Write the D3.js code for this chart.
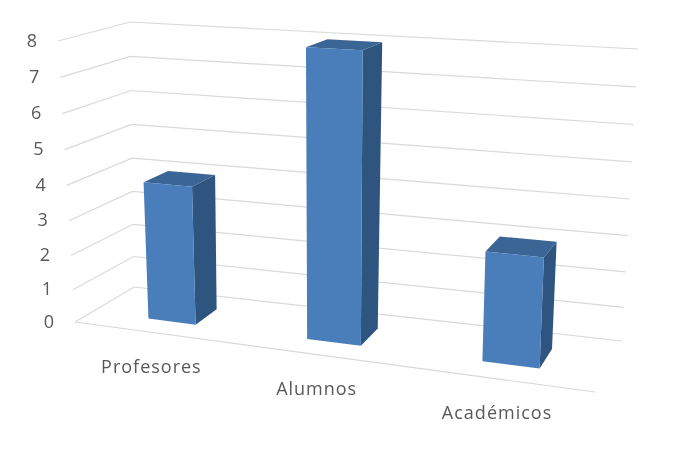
<!DOCTYPE html>
<html>
<head>
<meta charset="utf-8">
<script src="https://cdn.jsdelivr.net/npm/d3@7"></script>
<style>
    html, body { margin: 0; padding: 0; background: #fff; }
    text { font-family: "Open Sans", sans-serif; fill: #595959; }
</style>
</head>
<body>
<div id="chart"></div>
<script>
// Chart data
var categories = ["Profesores", "Alumnos", "Académicos"];
var values = [4, 8, 3];
var yTicks = [0, 1, 2, 3, 4, 5, 6, 7, 8];

var svgWidth = 675;
var svgHeight = 460;

// Pixel corners of the 3D box: front-left, front-right, back-right, back-left
var floorQuad = [[75, 322], [595, 392], [622, 341], [134, 287]];
var topQuad = [[58, 41], [610, 70], [638, 49], [130, 22]];

function lerp(a, b, t) {
    return [a[0] + (b[0] - a[0]) * t, a[1] + (b[1] - a[1]) * t];
}

// Maps the unit square on to a quad
function quadAt(q, u, w) {
    return lerp(lerp(q[0], q[1], u), lerp(q[3], q[2], u), w);
}

// Slight powers because of the perspective: things nearer the viewer come out bigger
var yScale = d3.scalePow().exponent(1.04).domain([0, 8]).range([0, 1]);
var uScale = d3.scalePow().exponent(1.13).domain([0, 1]).range([0, 1]);
var xScale = d3.scaleBand().domain(categories).range([0.03, 1])
    .paddingInner(0.686).paddingOuter(0.343);
var depth = { front: 0.3, back: 0.7 };

// u = along categories, w = into the chart, v = value
function project(u, w, v) {
    var p = uScale(u);
    return lerp(quadAt(floorQuad, p, w), quadAt(topQuad, p, w), yScale(v));
}

var svg = d3.select("#chart").append("svg")
    .attr("width", svgWidth)
    .attr("height", svgHeight);

var defs = svg.append("defs");
defs.append("filter").attr("id", "soft")
    .append("feGaussianBlur").attr("stdDeviation", 0.45);

var chartGroup = svg.append("g").attr("filter", "url(#soft)");
var line = d3.line();

// Gridlines on the side and back walls
chartGroup.selectAll(".grid")
    .data(yTicks)
    .enter()
    .append("path")
    .attr("class", "grid")
    .attr("fill", "none")
    .attr("stroke", "#d9d9d9")
    .attr("stroke-width", 1.2)
    .attr("d", d => line([project(0, 0, d), project(0, 1, d), project(1, 1, d)]));

// Front edge of the floor
chartGroup.append("path")
    .attr("fill", "none")
    .attr("stroke", "#d9d9d9")
    .attr("stroke-width", 1.2)
    .attr("d", line([project(0, 0, 0), project(1, 0, 0)]));

// Bars
var bars = chartGroup.selectAll(".bar")
    .data(categories)
    .enter()
    .append("g")
    .attr("class", "bar");

function face(cat, value, side) {
    var x0 = xScale(cat), x1 = x0 + xScale.bandwidth();
    var f = depth.front, b = depth.back;
    if (side == "front") return line([project(x0, f, 0), project(x1, f, 0), project(x1, f, value), project(x0, f, value)]) + "Z";
    if (side == "top") return line([project(x0, f, value), project(x1, f, value), project(x1, b, value), project(x0, b, value)]) + "Z";
    return line([project(x1, f, 0), project(x1, b, 0), project(x1, b, value), project(x1, f, value)]) + "Z";
}

bars.append("path")
    .attr("fill", "#2f5480")
    .attr("d", (d, i) => face(d, values[i], "side"));
bars.append("path")
    .attr("fill", "#3a6595")
    .attr("d", (d, i) => face(d, values[i], "top"));
bars.append("path")
    .attr("fill", "#4a7ebb")
    .attr("d", (d, i) => face(d, values[i], "front"));

var labelGroup = svg.append("g").attr("filter", "url(#soft)");

// Value labels
labelGroup.selectAll(".tick-label")
    .data(yTicks)
    .enter()
    .append("text")
    .attr("class", "tick-label")
    .attr("text-anchor", "end")
    .attr("dominant-baseline", "middle")
    .attr("font-size", 18)
    .attr("x", d => project(0, 0, d)[0] - 21)
    .attr("y", d => project(0, 0, d)[1] + 1)
    .text(d => d);

// Category labels
labelGroup.selectAll(".cat-label")
    .data(categories)
    .enter()
    .append("text")
    .attr("class", "cat-label")
    .attr("text-anchor", "middle")
    .attr("dominant-baseline", "middle")
    .attr("font-size", 18)
    .attr("letter-spacing", "1px")
    .attr("x", d => project(xScale(d) + xScale.bandwidth() / 2, 0, 0)[0] - 4)
    .attr("y", d => project(xScale(d) + xScale.bandwidth() / 2, 0, 0)[1] + 35)
    .text(d => d);
</script>
</body>
</html>
